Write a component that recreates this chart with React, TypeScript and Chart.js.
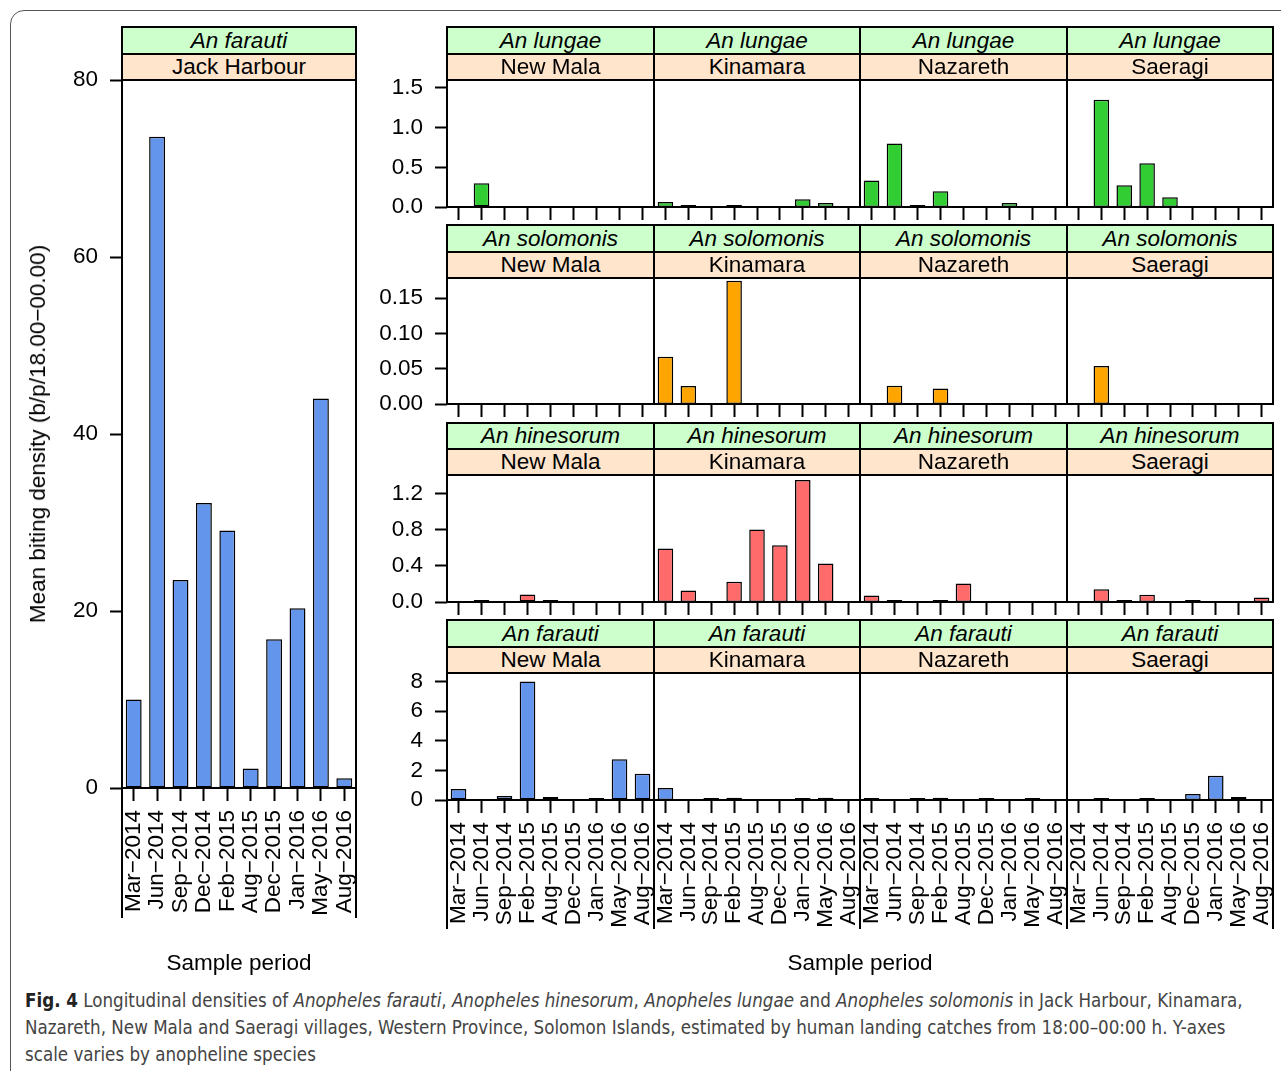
import React, { useEffect, useRef } from "react";
import { Chart, registerables } from "chart.js";

Chart.register(...registerables);

const FONT = "'Liberation Sans', Arial, Helvetica, sans-serif";
const CAPTION_FONT = "'Liberation Sans Narrow', 'DejaVu Sans Condensed', 'Open Sans', sans-serif";

// ---------- data ----------
const periodsJackHarbour = ["Mar−2014", "Jun−2014", "Sep−2014", "Dec−2014", "Feb−2015", "Aug−2015", "Dec−2015", "Jan−2016", "May−2016", "Aug−2016"];
const periods = ["Mar−2014", "Jun−2014", "Sep−2014", "Feb−2015", "Aug−2015", "Dec−2015", "Jan−2016", "May−2016", "Aug−2016"];
const villages = ["New Mala", "Kinamara", "Nazareth", "Saeragi"];
const speciesRows = ["An lungae", "An solomonis", "An hinesorum", "An farauti"];

const farautiJackHarbour = [10.0, 73.6, 23.5, 32.2, 29.1, 2.2, 16.8, 20.3, 44.0, 1.1];

const lungaeNewMala = [0, 0.30, 0, 0, 0, 0, 0, 0, 0];
const lungaeKinamara = [0.063, 0.025, 0, 0.025, 0, 0, 0.097, 0.05, 0];
const lungaeNazareth = [0.333, 0.80, 0.025, 0.20, 0, 0, 0.05, 0, 0];
const lungaeSaeragi = [0, 1.35, 0.274, 0.55, 0.122, 0, 0, 0, 0];

const solomonisNewMala = [0, 0, 0, 0, 0, 0, 0, 0, 0];
const solomonisKinamara = [0.067, 0.0255, 0, 0.1745, 0, 0, 0, 0, 0];
const solomonisNazareth = [0, 0.026, 0, 0.022, 0, 0, 0, 0, 0];
const solomonisSaeragi = [0, 0.054, 0, 0, 0, 0, 0, 0, 0];

const hinesorumNewMala = [0, 0.02, 0, 0.084, 0.02, 0, 0, 0, 0];
const hinesorumKinamara = [0.59, 0.128, 0, 0.224, 0.80, 0.627, 1.347, 0.426, 0];
const hinesorumNazareth = [0.073, 0.02, 0, 0.02, 0.205, 0, 0, 0, 0];
const hinesorumSaeragi = [0, 0.14, 0.02, 0.08, 0, 0.02, 0, 0, 0.05];

const farautiNewMala = [0.74, 0, 0.27, 8.0, 0.2, 0, 0.09, 2.76, 1.78];
const farautiKinamara = [0.81, 0, 0.07, 0.16, 0, 0, 0.07, 0.16, 0];
const farautiNazareth = [0.13, 0, 0.03, 0.16, 0, 0.03, 0, 0.09, 0];
const farautiSaeragi = [0, 0.07, 0, 0.1, 0, 0.40, 1.64, 0.2, 0];

const yTicksJackHarbour = [0, 20, 40, 60, 80];
const yTicksLungae = [0, 0.5, 1.0, 1.5];
const yTicksSolomonis = [0, 0.05, 0.1, 0.15];
const yTicksHinesorum = [0, 0.4, 0.8, 1.2];
const yTicksFarauti = [0, 2, 4, 6, 8];

const yMaxJackHarbour = 80;
const yMaxRows = [1.6, 0.1785, 1.403, 8.58];
const yDecimalsRows = [1, 2, 1, 0];
const yTicksRows = [yTicksLungae, yTicksSolomonis, yTicksHinesorum, yTicksFarauti];
const rowColors = ["#32CD32", "#FFA500", "#FF6A6A", "#6495ED"];
const rowValues = [
  [lungaeNewMala, lungaeKinamara, lungaeNazareth, lungaeSaeragi],
  [solomonisNewMala, solomonisKinamara, solomonisNazareth, solomonisSaeragi],
  [hinesorumNewMala, hinesorumKinamara, hinesorumNazareth, hinesorumSaeragi],
  [farautiNewMala, farautiKinamara, farautiNazareth, farautiSaeragi],
];

// ---------- layout ----------
const colEdges = [447, 654, 860, 1067, 1273];
const rowStripTop = [27, 225, 423, 620];
const rowOrangeTop = [54, 252, 449, 647];
const rowPlotTop = [80, 278, 475, 673];
const rowBaseline = [207, 404, 602, 800];
const LW = 2;

const framePlugin = {
  id: "frame",
  afterDraw(chart: any, _args: any, opts: any) {
    const { ctx, chartArea } = chart;
    ctx.save();
    ctx.strokeStyle = "#000";
    ctx.lineWidth = LW;
    ctx.strokeRect(chartArea.left, chartArea.top, chartArea.right - chartArea.left, chartArea.bottom - chartArea.top);
    if (opts && opts.ext > 0) {
      ctx.beginPath();
      ctx.moveTo(chartArea.left, chartArea.bottom);
      ctx.lineTo(chartArea.left, chartArea.bottom + opts.ext);
      ctx.moveTo(chartArea.right, chartArea.bottom);
      ctx.lineTo(chartArea.right, chartArea.bottom + opts.ext);
      ctx.stroke();
    }
    ctx.restore();
  },
};

function zeroPadding(s: any) {
  s.paddingTop = 0;
  s.paddingBottom = 0;
  s.paddingLeft = 0;
  s.paddingRight = 0;
}

type PanelProps = {
  labels: string[];
  values: number[];
  color: string;
  yMax: number;
  yTicks: number[];
  decimals: number;
  plotLeft: number;
  plotTop: number;
  plotW: number;
  plotH: number;
  showY: boolean;
  showXLabels: boolean;
  ext: number;
  yW: number;
};

function Panel(p: PanelProps) {
  const ref = useRef<HTMLCanvasElement>(null);
  const M = 18;
  const W = p.showY ? p.yW : 0;
  const xH = p.showXLabels ? 150 : 13;
  const left = p.plotLeft - W - M;
  const top = p.plotTop - M;
  const width = W + p.plotW + 2 * M;
  const height = M + p.plotH + xH + M;

  useEffect(() => {
    const font = { family: FONT, size: 22.5 };
    const chart = new Chart(ref.current as HTMLCanvasElement, {
      type: "bar",
      data: {
        labels: p.labels,
        datasets: [
          {
            data: p.values.map((v) => (v === 0 ? null : v)),
            backgroundColor: p.color,
            borderColor: "#000",
            borderWidth: 1.5,
            borderSkipped: false,
            barPercentage: 0.68,
            categoryPercentage: 1,
            minBarLength: 2,
          } as any,
        ],
      },
      options: {
        animation: false,
        responsive: false,
        maintainAspectRatio: false,
        devicePixelRatio: 1,
        layout: { padding: { left: M, right: M, top: M, bottom: M } },
        plugins: {
          legend: { display: false },
          tooltip: { enabled: false },
          frame: { ext: p.ext },
        } as any,
        scales: {
          x: {
            type: "category",
            offset: true,
            grid: {
              offset: false,
              drawOnChartArea: false,
              drawTicks: true,
              tickLength: 13,
              tickColor: "#000",
              tickWidth: LW,
            },
            border: { display: false },
            ticks: {
              display: p.showXLabels,
              minRotation: 90,
              maxRotation: 90,
              autoSkip: false,
              padding: 9,
              color: "#000",
              font,
            },
            afterFit: (s: any) => {
              s.height = xH;
              zeroPadding(s);
            },
          },
          y: {
            display: p.showY,
            min: 0,
            max: p.yMax,
            afterBuildTicks: (s: any) => {
              s.ticks = p.yTicks.map((v) => ({ value: v }));
            },
            grid: {
              drawOnChartArea: false,
              drawTicks: true,
              tickLength: 12,
              tickColor: "#000",
              tickWidth: LW,
            },
            border: { display: false },
            ticks: {
              padding: 12,
              color: "#000",
              font,
              callback: (v: any) => Number(v).toFixed(p.decimals),
            },
            afterFit: (s: any) => {
              s.width = W;
              zeroPadding(s);
            },
          },
        },
      } as any,
      plugins: [framePlugin as any],
    });
    return () => chart.destroy();
  }, []);

  return (
    <canvas
      ref={ref}
      width={width}
      height={height}
      style={{ position: "absolute", left, top, width, height }}
    />
  );
}

function Strip({ x, y, w, h, bg, text, italic }: { x: number; y: number; w: number; h: number; bg: string; text: string; italic?: boolean }) {
  return (
    <div
      style={{
        position: "absolute",
        left: x - LW / 2,
        top: y - LW / 2,
        width: w + LW,
        height: h + LW,
        boxSizing: "border-box",
        border: `${LW}px solid #000`,
        background: bg,
        fontFamily: FONT,
        fontSize: 22.5,
        fontStyle: italic ? "italic" : "normal",
        lineHeight: `${h - LW}px`,
        textAlign: "center",
        color: "#000",
        whiteSpace: "nowrap",
        overflow: "hidden",
      }}
    >
      {text}
    </div>
  );
}

const GREEN = "#CCFFCC";
const PEACH = "#FFE5CC";

export default function App() {
  const strips: any[] = [];
  const panels: any[] = [];

  // Left panel: Jack Harbour
  strips.push(<Strip key="jh1" x={122} y={27} w={234} h={27} bg={GREEN} text="An farauti" italic />);
  strips.push(<Strip key="jh2" x={122} y={54} w={234} h={26} bg={PEACH} text="Jack Harbour" />);
  panels.push(
    <Panel
      key="jh"
      labels={periodsJackHarbour}
      values={farautiJackHarbour}
      color="#6495ED"
      yMax={yMaxJackHarbour}
      yTicks={yTicksJackHarbour}
      decimals={0}
      plotLeft={122}
      plotTop={80}
      plotW={234}
      plotH={708}
      showY
      showXLabels
      ext={130}
      yW={60}
    />
  );

  for (let r = 0; r < 4; r++) {
    for (let c = 0; c < 4; c++) {
      const x = colEdges[c];
      const w = colEdges[c + 1] - colEdges[c];
      strips.push(
        <Strip key={`g${r}${c}`} x={x} y={rowStripTop[r]} w={w} h={rowOrangeTop[r] - rowStripTop[r]} bg={GREEN} text={speciesRows[r]} italic />
      );
      strips.push(
        <Strip key={`o${r}${c}`} x={x} y={rowOrangeTop[r]} w={w} h={rowPlotTop[r] - rowOrangeTop[r]} bg={PEACH} text={villages[c]} />
      );
      panels.push(
        <Panel
          key={`p${r}${c}`}
          labels={periods}
          values={rowValues[r][c]}
          color={rowColors[r]}
          yMax={yMaxRows[r]}
          yTicks={yTicksRows[r]}
          decimals={yDecimalsRows[r]}
          plotLeft={x}
          plotTop={rowPlotTop[r]}
          plotW={w}
          plotH={rowBaseline[r] - rowPlotTop[r]}
          showY={c === 0}
          showXLabels={r === 3}
          ext={r === 3 ? 129 : 0}
          yW={70}
        />
      );
    }
  }

  const textStyle: React.CSSProperties = {
    position: "absolute",
    fontFamily: FONT,
    fontSize: 22.5,
    color: "#000",
    whiteSpace: "nowrap",
    transform: "translate(-50%, -50%)",
  };

  const capLine: React.CSSProperties = {
    position: "absolute",
    left: 25,
    fontFamily: CAPTION_FONT,
    fontSize: 18.6,
    color: "#444",
    whiteSpace: "nowrap",
    lineHeight: "24px",
  };

  return (
    <div style={{ position: "absolute", left: 0, top: 0, width: 1281, height: 1071, overflow: "hidden", background: "#fff" }}>
      <div
        style={{
          position: "absolute",
          left: 10,
          top: 10,
          width: 1400,
          height: 1200,
          border: "1.5px solid #555",
          borderRadius: 14,
          boxSizing: "border-box",
        }}
      />
      {panels}
      {strips}
      <div style={{ ...textStyle, left: 38, top: 434, transform: "translate(-50%, -50%) rotate(-90deg)" }}>
        Mean biting density (b/p/18.00−00.00)
      </div>
      <div style={{ ...textStyle, left: 239, top: 963 }}>Sample period</div>
      <div style={{ ...textStyle, left: 860, top: 963 }}>Sample period</div>
      <div style={{ ...capLine, top: 989 }}>
        <b style={{ color: "#222" }}>Fig. 4</b> Longitudinal densities of <i>Anopheles farauti</i>, <i>Anopheles hinesorum</i>,{" "}
        <i>Anopheles lungae</i> and <i>Anopheles solomonis</i> in Jack Harbour, Kinamara,
      </div>
      <div style={{ ...capLine, top: 1016 }}>
        Nazareth, New Mala and Saeragi villages, Western Province, Solomon Islands, estimated by human landing catches from 18:00–00:00 h. Y-axes
      </div>
      <div style={{ ...capLine, top: 1043 }}>scale varies by anopheline species</div>
    </div>
  );
}
